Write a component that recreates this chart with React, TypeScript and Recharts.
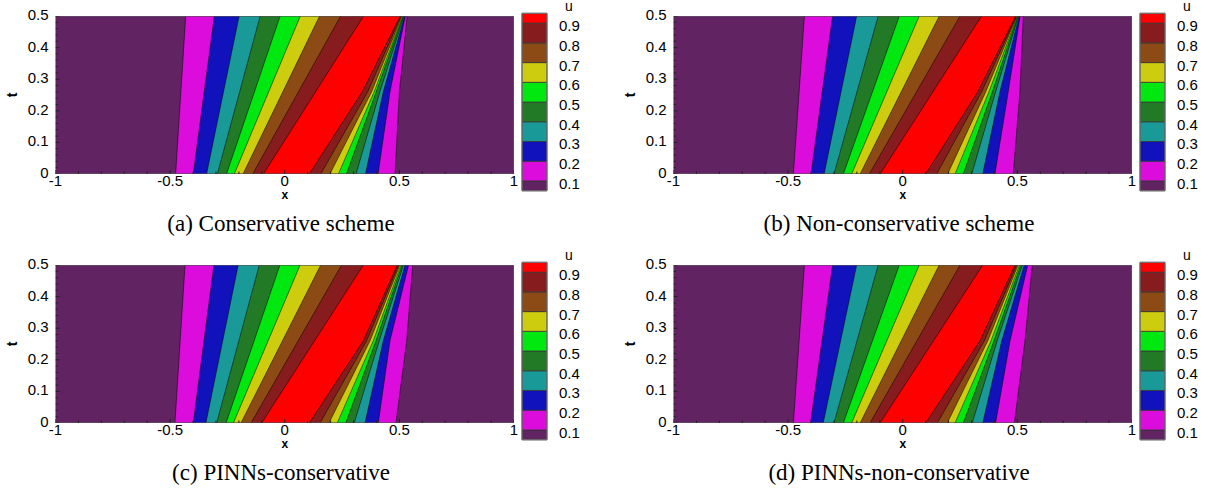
import { ScatterChart, Scatter, XAxis, YAxis } from 'recharts';

// contour colours, level 0.1 ... 0.9 (inner bands painted last)
const bgColor = '#622363';
const levelColors = ['#dc0ddc', '#1212bd', '#1a9999', '#227a26', '#00e810', '#cdcc0e', '#8c4b14', '#871c1e', '#ff0000'];

// t rows where boundaries were read (bottom, mid, top)
const tRows = [0, 0.26, 0.5];

// (a) Conservative scheme
const leftBottomA = [-0.476, -0.399, -0.341, -0.294, -0.254, -0.220, -0.182, -0.140, -0.093];
const leftTopA = [-0.432, -0.307, -0.199, -0.107, -0.020, 0.068, 0.152, 0.244, 0.344];
const rightBottomA = [0.481, 0.407, 0.352, 0.311, 0.269, 0.234, 0.197, 0.157, 0.107];
const rightMidA = [0.500, 0.459, 0.430, 0.415, 0.399, 0.390, 0.379, 0.362, 0.338];
const rightTopA = [0.534, 0.526, 0.523, 0.520, 0.517, 0.514, 0.511, 0.507, 0.504];

// (b) Non-conservative scheme
const leftBottomB = [-0.477, -0.400, -0.343, -0.300, -0.259, -0.223, -0.186, -0.146, -0.099];
const leftTopB = [-0.429, -0.306, -0.201, -0.107, -0.015, 0.072, 0.159, 0.250, 0.344];
const rightBottomB = [0.482, 0.402, 0.349, 0.301, 0.264, 0.228, 0.196, 0.148, 0.100];
const rightMidB = [0.511, 0.460, 0.424, 0.405, 0.391, 0.376, 0.362, 0.344, 0.327];
const rightTopB = [0.526, 0.512, 0.508, 0.505, 0.502, 0.500, 0.498, 0.496, 0.493];

// (c) PINNs-conservative
const leftBottomC = [-0.479, -0.399, -0.344, -0.297, -0.256, -0.224, -0.191, -0.147, -0.101];
const leftTopC = [-0.435, -0.309, -0.203, -0.111, -0.021, 0.067, 0.157, 0.248, 0.343];
const rightBottomC = [0.485, 0.408, 0.350, 0.303, 0.266, 0.229, 0.193, 0.154, 0.107];
const rightMidC = [0.532, 0.459, 0.430, 0.412, 0.398, 0.386, 0.372, 0.357, 0.343];
const rightTopC = [0.558, 0.540, 0.525, 0.518, 0.512, 0.507, 0.502, 0.497, 0.491];

// (d) PINNs-non-conservative
const leftBottomD = [-0.477, -0.402, -0.347, -0.300, -0.259, -0.223, -0.186, -0.143, -0.099];
const leftTopD = [-0.429, -0.306, -0.201, -0.107, -0.015, 0.072, 0.159, 0.250, 0.349];
const rightBottomD = [0.487, 0.405, 0.349, 0.303, 0.264, 0.228, 0.194, 0.151, 0.100];
const rightMidD = [0.533, 0.468, 0.432, 0.412, 0.398, 0.385, 0.371, 0.356, 0.337];
const rightTopD = [0.565, 0.545, 0.530, 0.522, 0.515, 0.509, 0.503, 0.497, 0.490];

// axes
const xMajorTicks = [-1, -0.5, 0, 0.5, 1];
const xTicks = [-1, -0.9, -0.8, -0.7, -0.6, -0.5, -0.4, -0.3, -0.2, -0.1, 0, 0.1, 0.2, 0.3, 0.4, 0.5, 0.6, 0.7, 0.8, 0.9, 1];
const yMajorTicks = [0, 0.1, 0.2, 0.3, 0.4, 0.5];
const yTicks = [0, 0.02, 0.04, 0.06, 0.08, 0.1, 0.12, 0.14, 0.16, 0.18, 0.2, 0.22, 0.24, 0.26, 0.28, 0.3, 0.32, 0.34, 0.36, 0.38, 0.4, 0.42, 0.44, 0.46, 0.48, 0.5];

// colour bar
const cbBounds = [0.05, 0.1, 0.2, 0.3, 0.4, 0.5, 0.6, 0.7, 0.8, 0.9, 0.95];
const cbTicks = [0.1, 0.2, 0.3, 0.4, 0.5, 0.6, 0.7, 0.8, 0.9];

const sans = 'Liberation Sans, Arial, sans-serif';
const serif = 'Liberation Serif, Times New Roman, serif';
const tickFont = 15;

const noDot = () => <g />;

const polyLine = (fill: string, stroke: string, sw: number) => (props: any) => {
  const pts = props.points || [];
  if (!pts.length) return <g />;
  const d = pts.map((p: any, i: number) => `${i ? 'L' : 'M'}${p.x},${p.y}`).join(' ') + ' Z';
  return <path d={d} fill={fill} stroke={stroke} strokeWidth={sw} strokeLinejoin="round" />;
};

// inward tick marks drawn at scaled points
const xTickMark = (p: any) => {
  const len = xMajorTicks.includes(p.payload?.x) ? 4 : 2.5;
  return <line x1={p.cx} x2={p.cx} y1={p.cy} y2={p.cy - len} stroke="#222" strokeWidth={1} />;
};
const yTickMark = (p: any) => {
  const len = yMajorTicks.includes(p.payload?.t) ? 4 : 2.5;
  return <line x1={p.cx} x2={p.cx + len} y1={p.cy} y2={p.cy} stroke="#222" strokeWidth={1} />;
};

const frameRect = [
  { x: -1, t: 0 }, { x: -1, t: 0.5 }, { x: 1, t: 0.5 }, { x: 1, t: 0 },
];
const xTickPts = xTicks.map((v) => ({ x: v, t: 0 }));
const yTickPts = yTicks.map((v) => ({ x: -1, t: v }));

interface PanelData {
  leftBottom: number[];
  leftTop: number[];
  rightBottom: number[];
  rightMid: number[];
  rightTop: number[];
}

function bandPolygons(p: PanelData) {
  return p.leftBottom.map((lb, k) => [
    { x: lb, t: tRows[0] },
    { x: p.leftTop[k], t: tRows[2] },
    { x: p.rightTop[k], t: tRows[2] },
    { x: p.rightMid[k], t: tRows[1] },
    { x: p.rightBottom[k], t: tRows[0] },
  ]);
}

const XTick = (props: any) => {
  const { x, y, payload } = props;
  if (!xMajorTicks.includes(payload.value)) return <g />;
  return (
    <text x={x} y={y + 12} textAnchor="middle" fontSize={tickFont} fontFamily={sans} fill="#000">
      {String(payload.value)}
    </text>
  );
};

const YTick = (props: any) => {
  const { x, y, payload } = props;
  if (!yMajorTicks.includes(payload.value)) return <g />;
  return (
    <text x={x - 7} y={y + 4} textAnchor="end" fontSize={tickFont} fontFamily={sans} fill="#000">
      {String(payload.value)}
    </text>
  );
};

const CbTick = (props: any) => {
  const { x, y, payload } = props;
  return (
    <text x={x + 12} y={y + 8} textAnchor="start" fontSize={tickFont} fontFamily={sans} fill="#000">
      {String(payload.value)}
    </text>
  );
};

function Panel({ ox, oy, data, caption }: { ox: number; oy: number; data: PanelData; caption: string }) {
  const polys = bandPolygons(data);
  const cbBlocks = cbBounds.slice(0, -1).map((lo, i) => [
    { x: 0, t: lo }, { x: 0, t: cbBounds[i + 1] }, { x: 1, t: cbBounds[i + 1] }, { x: 1, t: lo },
  ]);
  const cbColors = [bgColor, ...levelColors];
  return (
    <div style={{ position: 'absolute', left: ox, top: oy, width: 600, height: 249 }}>
      <div style={{ position: 'absolute', left: 0, top: 0 }}>
        <ScatterChart width={600} height={200} margin={{ top: 16, right: 86, bottom: 0, left: 0 }}>
          <Scatter data={frameRect} line={polyLine(bgColor, 'none', 0)} shape={noDot} isAnimationActive={false} />
          {polys.map((poly, k) => (
            <Scatter key={k} data={poly} line={polyLine(levelColors[k], '#000', 0.5)} shape={noDot} isAnimationActive={false} />
          ))}
          <Scatter data={frameRect} line={polyLine('none', '#666', 1)} shape={noDot} isAnimationActive={false} />
          <Scatter data={xTickPts} shape={xTickMark} isAnimationActive={false} />
          <Scatter data={yTickPts} shape={yTickMark} isAnimationActive={false} />
          <XAxis type="number" dataKey="x" domain={[-1, 1]} ticks={xTicks} interval={0} tick={XTick}
            tickLine={false} axisLine={false} tickSize={0} tickMargin={0} height={26} allowDataOverflow />
          <YAxis type="number" dataKey="t" domain={[0, 0.5]} ticks={yTicks} interval={0} tick={YTick}
            tickLine={false} axisLine={false} tickSize={0} tickMargin={0} width={55.5} allowDataOverflow />
        </ScatterChart>
      </div>
      <div style={{ position: 'absolute', left: 500, top: 0 }}>
        <ScatterChart width={100} height={200} margin={{ top: 13.3, right: 0, bottom: 9.2, left: 22 }}>
          {cbBlocks.map((blk, i) => (
            <Scatter key={i} data={blk} line={polyLine(cbColors[i], '#333', 0.8)} shape={noDot} isAnimationActive={false} />
          ))}
          <Scatter data={[{ x: 0, t: 0.05 }, { x: 0, t: 0.95 }, { x: 1, t: 0.95 }, { x: 1, t: 0.05 }]}
            line={polyLine('none', '#777', 1)} shape={noDot} isAnimationActive={false} />
          <XAxis type="number" dataKey="x" domain={[0, 1]} hide />
          <YAxis type="number" dataKey="t" orientation="right" domain={[0.05, 0.95]} ticks={cbTicks} interval={0}
            tick={CbTick} tickLine={false} axisLine={false} tickSize={0} tickMargin={0} width={53} />
        </ScatterChart>
      </div>
      <svg width={600} height={249} style={{ position: 'absolute', left: 0, top: 0, overflow: 'visible', pointerEvents: 'none' }}>
        <text x={17} y={95} transform="rotate(-90 17 95)" textAnchor="middle" fontSize={14} fontWeight="bold" fontFamily={sans}>t</text>
        <text x={284.75} y={199} textAnchor="middle" fontSize={12} fontWeight="bold" fontFamily={sans}>x</text>
        <text x={569} y={11} textAnchor="middle" fontSize={14} fontFamily={sans}>u</text>
        <text x={281} y={231} textAnchor="middle" fontSize={23} fontFamily={serif}>{caption}</text>
      </svg>
    </div>
  );
}

export default function App() {
  return (
    <div style={{ position: 'absolute', left: 0, top: 0, width: 1213, height: 490, background: '#fff' }}>
      <Panel ox={0} oy={0} caption="(a) Conservative scheme"
        data={{ leftBottom: leftBottomA, leftTop: leftTopA, rightBottom: rightBottomA, rightMid: rightMidA, rightTop: rightTopA }} />
      <Panel ox={618} oy={0} caption="(b) Non-conservative scheme"
        data={{ leftBottom: leftBottomB, leftTop: leftTopB, rightBottom: rightBottomB, rightMid: rightMidB, rightTop: rightTopB }} />
      <Panel ox={0} oy={249} caption="(c) PINNs-conservative"
        data={{ leftBottom: leftBottomC, leftTop: leftTopC, rightBottom: rightBottomC, rightMid: rightMidC, rightTop: rightTopC }} />
      <Panel ox={618} oy={249} caption="(d) PINNs-non-conservative"
        data={{ leftBottom: leftBottomD, leftTop: leftTopD, rightBottom: rightBottomD, rightMid: rightMidD, rightTop: rightTopD }} />
    </div>
  );
}
